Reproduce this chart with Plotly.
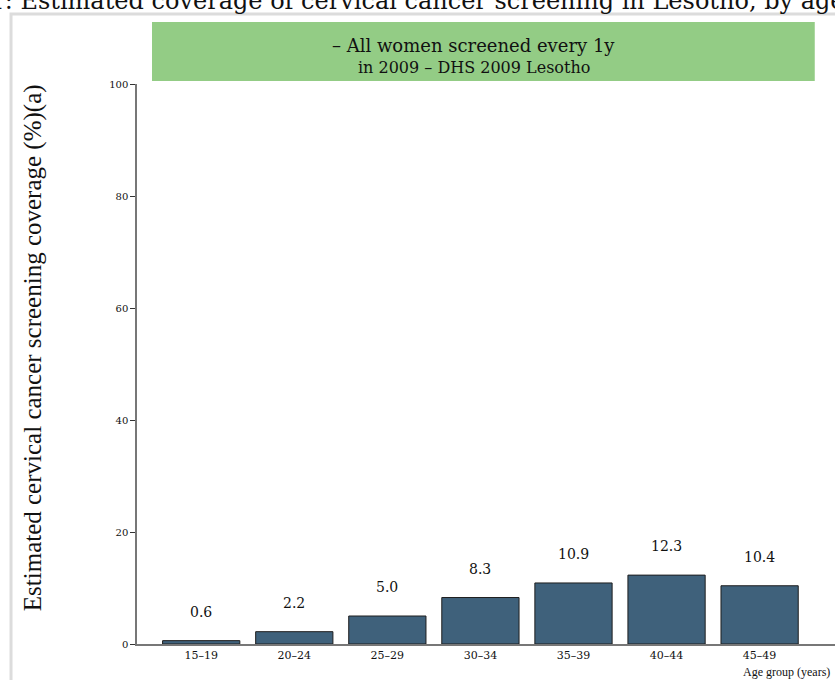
import plotly.graph_objects as go

age_groups = ["15–19", "20–24", "25–29", "30–34", "35–39", "40–44", "45–49"]
coverage = [0.6, 2.2, 5.0, 8.3, 10.9, 12.3, 10.4]
value_labels = [f"{v:.1f}" for v in coverage]
y_ticks = [0, 20, 40, 60, 80, 100]

title_text = "Figure 1: Estimated coverage of cervical cancer screening in Lesotho, by age group"
box_line1 = "– All women screened every 1y"
box_line2 = "in 2009 – DHS 2009 Lesotho"
y_title = "Estimated cervical cancer screening coverage (%)(a)"
x_title = "Age group (years)"

SERIF = "DejaVu Serif"
TIMES = "Liberation Serif"

fig = go.Figure()
fig.add_trace(
    go.Bar(
        x=age_groups,
        y=coverage,
        marker=dict(color="#3f617b", line=dict(color="#1e1e1e", width=1)),
        width=0.83,
        showlegend=False,
        hoverinfo="x+y",
    )
)

# value labels above bars
for cat, v, lab in zip(age_groups, coverage, value_labels):
    fig.add_annotation(
        x=cat, y=v, text=lab, showarrow=False,
        yanchor="middle", yshift=29,
        font=dict(family=SERIF, size=14, color="#111"),
    )

annots = [
    # page title, mostly clipped by the top edge as in the original
    dict(x=0.3954, y=1.148, xref="paper", yref="paper", text=title_text,
         showarrow=False, xanchor="center", yanchor="middle",
         font=dict(family=SERIF, size=24, color="#111")),
    dict(x=0.4828, y=1.0696, xref="paper", yref="paper", text=box_line1,
         showarrow=False, xanchor="center", yanchor="middle",
         font=dict(family=SERIF, size=18, color="#111")),
    dict(x=0.4828, y=1.0286, xref="paper", yref="paper", text=box_line2,
         showarrow=False, xanchor="center", yanchor="middle",
         font=dict(family=SERIF, size=16, color="#111")),
    dict(x=-0.149, y=0.53, xref="paper", yref="paper", text=y_title,
         showarrow=False, textangle=-90, xanchor="center", yanchor="middle",
         font=dict(family=TIMES, size=25, color="#111")),
    dict(x=0.9957, y=-0.05, xref="paper", yref="paper", text=x_title,
         showarrow=False, xanchor="right", yanchor="middle",
         font=dict(family=TIMES, size=12, color="#111")),
]
for a in annots:
    fig.add_annotation(**a)

# outer light frame and green header box
fig.add_shape(type="rect", xref="paper", yref="paper",
              x0=-0.1805, x1=1.05, y0=-0.2, y1=1.125,
              line=dict(color="#dcdcdc", width=3), fillcolor="rgba(0,0,0,0)",
              layer="below")
fig.add_shape(type="rect", xref="paper", yref="paper",
              x0=0.0215, x1=0.971, y0=1.0054, y1=1.1107,
              line=dict(width=0), fillcolor="#93cc85", layer="below")

fig.update_layout(
    width=835,
    height=680,
    margin=dict(l=137, r=0, t=84, b=36),
    paper_bgcolor="white",
    plot_bgcolor="white",
    font=dict(family=SERIF, color="#111"),
    xaxis=dict(
        range=[-0.69, 6.81],
        showline=True, linecolor="#777", linewidth=1.5,
        ticks="", showgrid=False, zeroline=False,
        tickfont=dict(family=SERIF, size=11, color="#111"),
    ),
    yaxis=dict(
        range=[0, 100],
        tickvals=y_ticks,
        showline=True, linecolor="#777", linewidth=1.5,
        ticks="outside", ticklen=5, tickcolor="#333",
        showgrid=False, zeroline=False,
        tickfont=dict(family=SERIF, size=10, color="#111"),
    ),
)

# drop the default page margin so the 835x680 figure fills the window exactly
fig.write_html(
    "out.html",
    config={"displayModeBar": False},
    post_script="document.body.style.margin='0';document.body.style.overflow='hidden';",
)
